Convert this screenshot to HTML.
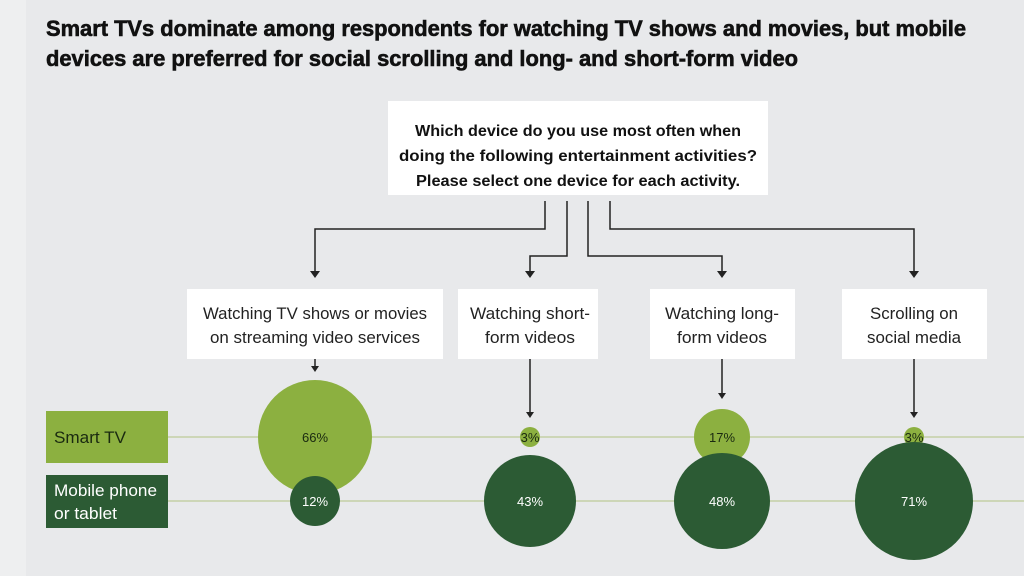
<!DOCTYPE html>
<html><head><meta charset="utf-8"><style>
html,body{margin:0;padding:0;background:#e8e9eb;}
svg{display:block;}
text{font-family:"Liberation Sans",sans-serif;}
</style></head><body>
<svg width="1024" height="576" viewBox="0 0 1024 576" xmlns="http://www.w3.org/2000/svg">
<rect width="1024" height="576" fill="#e8e9eb"/>
<rect width="26" height="576" fill="#eeeff0"/>
<g font-weight="bold" font-size="22" fill="#111" stroke="#111" stroke-width="0.6">
<text x="46" y="36" textLength="920" lengthAdjust="spacingAndGlyphs">Smart TVs dominate among respondents for watching TV shows and movies, but mobile</text>
<text x="46" y="66" textLength="752" lengthAdjust="spacingAndGlyphs">devices are preferred for social scrolling and long- and short-form video</text>
</g>
<rect x="388" y="101" width="380" height="94" fill="#fff"/>
<g font-weight="bold" font-size="16" fill="#111" text-anchor="middle">
<text x="578" y="136" textLength="326" lengthAdjust="spacingAndGlyphs">Which device do you use most often when</text>
<text x="578" y="161" textLength="358" lengthAdjust="spacingAndGlyphs">doing the following entertainment activities?</text>
<text x="578" y="186" textLength="324" lengthAdjust="spacingAndGlyphs">Please select one device for each activity.</text>
</g>
<g stroke="#222" stroke-width="1.5" fill="none">
<polyline points="545,201 545,229 315,229 315,272"/>
<polyline points="567,201 567,256 530,256 530,272"/>
<polyline points="588,201 588,256 722,256 722,272"/>
<polyline points="610,201 610,229 914,229 914,272"/>
<line x1="315" y1="359" x2="315" y2="367"/>
<line x1="530" y1="359" x2="530" y2="413"/>
<line x1="722" y1="359" x2="722" y2="394"/>
<line x1="914" y1="359" x2="914" y2="413"/>
</g>
<g fill="#222">
<polygon points="310,271 320,271 315,278"/>
<polygon points="525,271 535,271 530,278"/>
<polygon points="717,271 727,271 722,278"/>
<polygon points="909,271 919,271 914,278"/>
<polygon points="311,366 319,366 315,372"/>
<polygon points="526,412 534,412 530,418"/>
<polygon points="718,393 726,393 722,399"/>
<polygon points="910,412 918,412 914,418"/>
</g>
<g fill="#fff">
<rect x="187" y="289" width="256" height="70"/>
<rect x="458" y="289" width="140" height="70"/>
<rect x="650" y="289" width="145" height="70"/>
<rect x="842" y="289" width="145" height="70"/>
</g>
<g font-size="17" fill="#222" text-anchor="middle">
<text x="315" y="319" textLength="224" lengthAdjust="spacingAndGlyphs">Watching TV shows or movies</text>
<text x="315" y="343" textLength="210" lengthAdjust="spacingAndGlyphs">on streaming video services</text>
<text x="530" y="319" textLength="120" lengthAdjust="spacingAndGlyphs">Watching short-</text>
<text x="530" y="343" textLength="90" lengthAdjust="spacingAndGlyphs">form videos</text>
<text x="722" y="319" textLength="114" lengthAdjust="spacingAndGlyphs">Watching long-</text>
<text x="722" y="343" textLength="90" lengthAdjust="spacingAndGlyphs">form videos</text>
<text x="914" y="319" textLength="88" lengthAdjust="spacingAndGlyphs">Scrolling on</text>
<text x="914" y="343" textLength="94" lengthAdjust="spacingAndGlyphs">social media</text>
</g>
<g stroke="#c4cfa6" stroke-width="1.5">
<line x1="168" y1="437" x2="1024" y2="437"/>
<line x1="168" y1="501" x2="1024" y2="501"/>
</g>
<rect x="46" y="411" width="122" height="52" fill="#8cb040"/>
<rect x="46" y="475" width="122" height="53" fill="#2c5b34"/>
<text x="54" y="443" font-size="17" fill="#1a2a10" textLength="72" lengthAdjust="spacingAndGlyphs">Smart TV</text>
<text x="54" y="496" font-size="17" fill="#fff" textLength="103" lengthAdjust="spacingAndGlyphs">Mobile phone</text>
<text x="54" y="519" font-size="17" fill="#fff" textLength="63" lengthAdjust="spacingAndGlyphs">or tablet</text>
<g fill="#8cb040">
<circle cx="315" cy="437" r="57"/>
<circle cx="530" cy="437" r="10"/>
<circle cx="722" cy="437" r="28"/>
<circle cx="914" cy="437" r="10"/>
</g>
<g fill="#2c5b34">
<circle cx="315" cy="501" r="25"/>
<circle cx="530" cy="501" r="46"/>
<circle cx="722" cy="501" r="48"/>
<circle cx="914" cy="501" r="59"/>
</g>
<g font-size="13" text-anchor="middle">
<text x="315" y="442" fill="#1a2a10">66%</text>
<text x="530" y="442" fill="#1a2a10">3%</text>
<text x="722" y="442" fill="#1a2a10">17%</text>
<text x="914" y="442" fill="#1a2a10">3%</text>
<text x="315" y="506" fill="#fff">12%</text>
<text x="530" y="506" fill="#fff">43%</text>
<text x="722" y="506" fill="#fff">48%</text>
<text x="914" y="506" fill="#fff">71%</text>
</g>
</svg>
</body></html>
